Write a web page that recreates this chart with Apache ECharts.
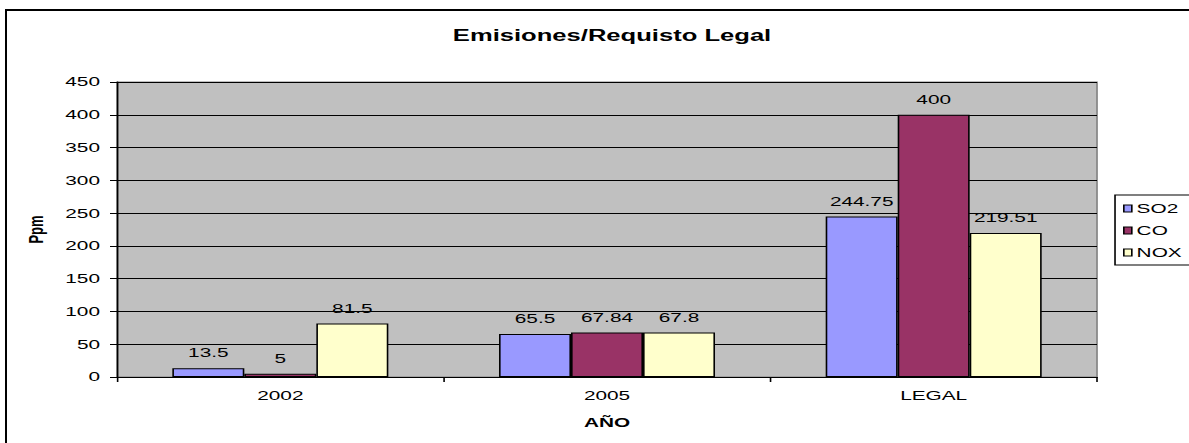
<!DOCTYPE html>
<html>
<head>
<meta charset="utf-8">
<title>Emisiones/Requisto Legal</title>
<script src="https://cdn.jsdelivr.net/npm/echarts@6/dist/echarts.min.js"></script>
<style>
	html, body { margin: 0; padding: 0; background: #fff; }
	#wrap { position: relative; width: 1189px; height: 443px; overflow: hidden; }
	/* el original esta estirado en horizontal: se dibuja estrecho y se escala */
	#chart { width: 743px; height: 443px; transform: scaleX(1.6003); transform-origin: 0 0; }
	#marco { position: absolute; left: 5px; top: 9px; width: 1200px; height: 460px; border: 2px solid #000; pointer-events: none; }
</style>
</head>
<body>
<div id="wrap">
	<div id="chart"></div>
	<div id="marco"></div>
</div>
<script>
	// datos
	var categorias = ['2002', '2005', 'LEGAL'];
	var so2 = [13.5, 65.5, 244.75];
	var co = [5, 67.84, 400];
	var nox = [81.5, 67.8, 219.51];
	var ticksY = { min: 0, max: 450, interval: 50 };

	var SX = 1189 / 743;
	// px horizontales del original -> px del grafico sin escalar
	function h(x) { return x / SX; }

	var fuente = 'Liberation Sans, Arial, sans-serif';
	var myChart = echarts.init(document.getElementById('chart'), null, { renderer: 'svg' });

	function serie(nombre, datos, color) {
		return {
			name: nombre,
			type: 'bar',
			data: datos,
			barWidth: h(72),
			barGap: 0,
			itemStyle: { color: color, borderColor: '#000', borderWidth: 1 },
			label: {
				show: true,
				position: 'top',
				distance: 9,
				color: '#000',
				fontSize: 13,
				fontFamily: fuente
			}
		};
	}

	var option = {
		animation: false,
		backgroundColor: '#fff',
		textStyle: { fontFamily: fuente, color: '#000' },
		title: {
			text: 'Emisiones/Requisto Legal',
			left: h(604),
			top: 23,
			textAlign: 'center',
			textStyle: { fontSize: 16, fontWeight: 'bold', color: '#000', fontFamily: fuente }
		},
		legend: {
			orient: 'vertical',
			left: h(1115),
			top: 195,
			padding: [7, 30, 6, h(8)],
			itemGap: 9,
			itemWidth: h(8),
			itemHeight: 7,
			icon: 'rect',
			backgroundColor: '#fff',
			borderColor: '#000',
			borderWidth: 1,
			itemStyle: { borderColor: '#000', borderWidth: 1 },
			textStyle: { fontSize: 13, color: '#000', fontFamily: fuente, padding: [0, 0, 0, -2] },
			data: ['SO2', 'CO', 'NOX']
		},
		grid: {
			left: h(117),
			right: 743 - h(1097),
			top: 82,
			bottom: 66,
			show: true,
			backgroundColor: '#C0C0C0',
			borderColor: '#808080',
			borderWidth: 1
		},
		xAxis: {
			type: 'category',
			data: categorias,
			name: 'AÑO',
			nameLocation: 'middle',
			nameGap: 39,
			nameTextStyle: { fontSize: 13, fontWeight: 'bold', color: '#000', fontFamily: fuente },
			axisLine: { lineStyle: { color: '#000', width: 1 } },
			axisTick: { show: true, alignWithLabel: false, length: 5, lineStyle: { color: '#000' } },
			axisLabel: { fontSize: 13, color: '#000', margin: 12, fontFamily: fuente }
		},
		yAxis: {
			type: 'value',
			min: ticksY.min,
			max: ticksY.max,
			interval: ticksY.interval,
			name: 'Ppm',
			nameLocation: 'middle',
			nameGap: 44,
			nameRotate: 90,
			nameTextStyle: { fontSize: 13, fontWeight: 'bold', color: '#000', fontFamily: fuente },
			axisLine: { show: true, lineStyle: { color: '#000', width: 1 } },
			axisTick: { show: true, length: h(7), lineStyle: { color: '#000' } },
			axisLabel: { fontSize: 13, color: '#000', margin: h(17), fontFamily: fuente },
			splitLine: { show: true, lineStyle: { color: '#000', width: 1 } }
		},
		series: [
			serie('SO2', so2, '#9999FF'),
			serie('CO', co, '#993366'),
			serie('NOX', nox, '#FFFFCC')
		]
	};

	myChart.setOption(option);
</script>
</body>
</html>
